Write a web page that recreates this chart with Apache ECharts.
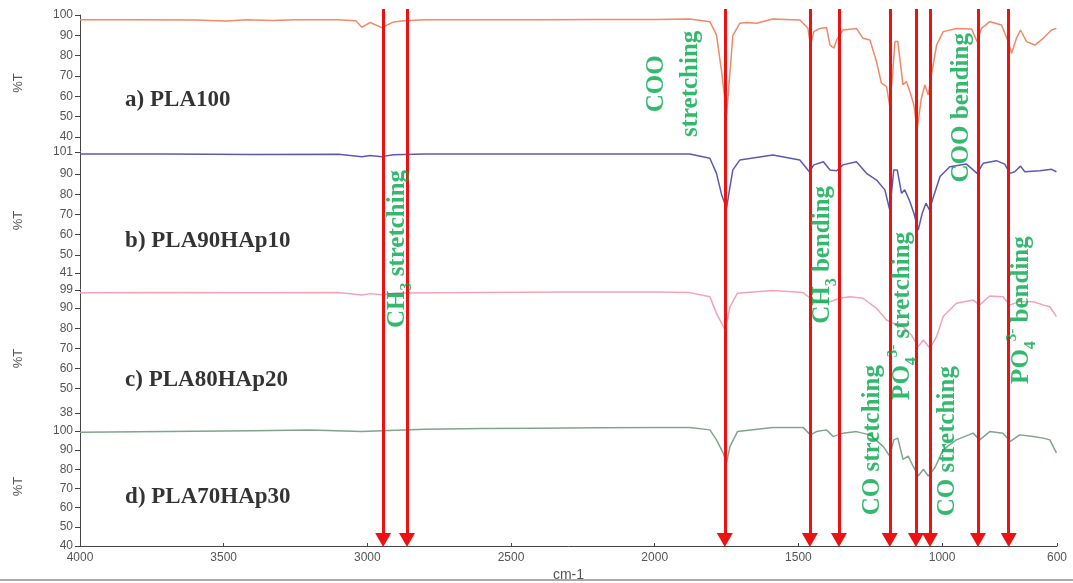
<!DOCTYPE html>
<html lang="en">
  <head>
    <meta charset="UTF-8">
    <title>FTIR spectra</title>
    <script src="https://cdn.jsdelivr.net/npm/echarts@6.0.0/dist/echarts.min.js"></script>
    <style>
      html, body { margin: 0; padding: 0; background: #fff; }
    </style>
  </head>
  <body>
    <div id="main" style="width: 1073px;height:583px;"></div>
    <script type="text/javascript">
      // spectra: [wavenumber cm-1, %T]
      const pla100 = [
        [4000, 97.6], [3800, 97.7], [3600, 97.5], [3490, 97.0], [3420, 97.6], [3330, 97.3], [3250, 97.6],
        [3100, 97.7], [3040, 97.2], [3019, 94.0], [2990, 96.3], [2950, 93.8], [2910, 96.5], [2870, 97.2],
        [2800, 97.6], [2600, 97.7], [2400, 97.7], [2200, 97.8], [2000, 97.8], [1878, 98.0],
        [1808, 96.7], [1785, 90.2], [1767, 72], [1750, 50.8], [1738, 72], [1728, 90], [1704, 95.9],
        [1680, 96.3], [1646, 95.9], [1589, 98], [1495, 97.5], [1467, 93.6], [1458, 85.2], [1446, 91.8],
        [1425, 93.4], [1402, 93.8], [1390, 85.2], [1376, 83.7], [1367, 87.7], [1345, 92.6], [1298, 93.4],
        [1275, 88.5], [1251, 87.7], [1228, 77], [1211, 66.4], [1193, 64.7], [1182, 55], [1170, 75],
        [1164, 86.9], [1154, 86.9], [1136, 65.6], [1124, 67.2], [1112, 62.3], [1098, 55.7], [1087, 43.4],
        [1072, 59], [1060, 65.6], [1048, 60.6], [1037, 70.5], [1019, 85.2], [996, 91.8], [950, 93.4],
        [897, 93.1], [878, 86.9], [863, 93.4], [834, 96.7], [793, 95.1], [770, 86.9], [758, 81.2],
        [741, 88.5], [727, 92.6], [706, 86.9], [677, 85.2], [648, 88.5], [619, 92.6], [602, 93.4]
      ];
      const pla90hap10 = [
        [4000, 100], [3700, 100], [3400, 99.8], [3100, 99.9], [3019, 98.6], [2990, 99.3], [2950, 98.7],
        [2910, 99.6], [2800, 100], [2500, 100], [2200, 100], [1878, 100], [1808, 97.9], [1785, 90.4],
        [1767, 79.7], [1750, 73.1], [1738, 83.8], [1728, 92.1], [1704, 97], [1589, 99.5], [1495, 97],
        [1462, 91.2], [1446, 94.6], [1413, 96.2], [1390, 92.1], [1367, 91.7], [1345, 94.6], [1298, 96.2],
        [1263, 90.4], [1228, 87.1], [1199, 82.2], [1182, 72.2], [1168, 92.1], [1156, 92.1], [1141, 80.5],
        [1130, 82.2], [1112, 76.4], [1098, 70.6], [1083, 62.3], [1069, 70.6], [1056, 75.6], [1044, 72.2],
        [1030, 78.8], [1007, 88.8], [973, 93.7], [915, 95], [878, 90.4], [857, 95.4], [811, 96.7],
        [782, 95], [764, 90.4], [747, 91.2], [727, 94], [712, 91.2], [660, 91.7], [619, 92.4], [602, 91.2]
      ];
      const pla80hap20 = [
        [4000, 97.6], [3700, 97.7], [3400, 97.6], [3100, 97.7], [3019, 96.5], [2990, 97.2], [2950, 96.6],
        [2900, 97.5], [2600, 97.8], [2300, 98], [2000, 98], [1878, 97.7], [1808, 95.7], [1785, 87.4],
        [1755, 79.2], [1738, 90.7], [1712, 97.4], [1589, 98.7], [1484, 97.7], [1458, 94.9], [1437, 93.2],
        [1390, 93.2], [1356, 94.9], [1321, 95.7], [1275, 94.9], [1228, 89.9], [1193, 84.1], [1170, 82.5],
        [1136, 80.8], [1107, 76.7], [1083, 70.9], [1065, 74.2], [1042, 70.1], [1019, 75.8], [996, 85.8],
        [950, 92.4], [892, 94], [869, 91.6], [834, 96], [788, 95.7], [764, 91.6], [730, 93.2], [683, 93.2],
        [648, 91.6], [625, 90.7], [602, 85.8]
      ];
      const pla70hap30 = [
        [4000, 99.2], [3800, 99.5], [3600, 99.8], [3400, 100.1], [3200, 100.4], [3019, 99.6], [2950, 100],
        [2800, 100.8], [2600, 101.2], [2400, 101.4], [2200, 101.6], [2000, 101.8], [1878, 101.8],
        [1808, 100.5], [1785, 95.3], [1762, 88.5], [1750, 83.4], [1738, 91.9], [1712, 99.6], [1589, 101.8],
        [1484, 101.8], [1458, 97.9], [1437, 99.6], [1402, 100.5], [1379, 97], [1345, 98.8], [1298, 99.6],
        [1251, 97.9], [1205, 91.9], [1182, 86.8], [1168, 95.3], [1154, 96.2], [1136, 85.1], [1118, 86.8],
        [1101, 81.7], [1083, 76.5], [1065, 80], [1048, 76.5], [1025, 80.8], [996, 90.2], [950, 95.3],
        [892, 98.8], [869, 95.3], [834, 99.6], [788, 98.8], [762, 94.5], [730, 97.9], [683, 97],
        [648, 96.2], [625, 95.3], [602, 88.5]
      ];

      const sampleNames = ['a) PLA100', 'b) PLA90HAp10', 'c) PLA80HAp20', 'd) PLA70HAp30'];
      const seriesColors = ['#f08a66', '#5a5ab4', '#f2a3b6', '#7fa58c'];
      const xTicks = [4000, 3500, 3000, 2500, 2000, 1500, 1000, 600];
      const yTicks = [
        [100, 90, 80, 70, 60, 50, 40],
        [101, 90, 80, 70, 60, 50, 41],
        [99, 90, 80, 70, 60, 50, 38],
        [100, 90, 80, 70, 60, 50, 40]
      ];
      const yRanges = [[33, 100], [33, 101], [31, 99], [40, 102]];
      // band positions (wavenumbers) marked with red arrows
      const arrowWn = [2945, 2862, 1756, 1460, 1359, 1182, 1091, 1042, 875, 768];
      // assignment labels: [text, wavenumber, height fraction of the plot]
      const bandLabels = [
        ['{t|COO}\n{t|stretching}', 1933, 0.859],
        ['{t|CH}{sub|3}{t| stretching}', 2894, 0.548],
        ['{t|CH}{sub|3}{t| bending}', 1415, 0.537],
        ['{t|COO bending}', 931, 0.814],
        ['{t|PO}{sub|4}{sup|3-}{t| stretching}', 1136, 0.422],
        ['{t|CO stretching}', 1241, 0.188],
        ['{t|CO stretching}', 980, 0.186],
        ['{t|PO}{sub|4}{sup|3-}{t| bending}', 722, 0.433]
      ];
      const namePos = [[3843, 0.829], [3843, 0.563], [3843, 0.301], [3843, 0.081]];

      const spectra = [pla100, pla90hap10, pla80hap20, pla70hap30];
      const panels = [[15, 136], [152, 137], [290, 137], [427, 121]];

      let myChart = echarts.init(document.getElementById('main'));

      const axisGrey = '#555';
      const green = '#00a84a';
      const serif = "'Liberation Serif', 'Times New Roman', serif";

      const grids = panels.map(p => ({ left: 80, right: 16, top: p[0], height: p[1] }));
      grids.push({ left: 80, right: 16, top: 9, height: 531 });

      const xAxes = grids.map((g, i) => ({
        type: 'value',
        gridIndex: i,
        min: 600,
        max: 4000,
        inverse: true,
        show: i === 3,
        name: i === 3 ? 'cm-1' : '',
        nameLocation: 'middle',
        nameGap: 22,
        nameTextStyle: { color: axisGrey, fontSize: 14, fontFamily: 'Liberation Sans' },
        splitLine: { show: false },
        axisLine: { onZero: false, lineStyle: { color: '#444' } },
        axisTick: { inside: true, length: 3, customValues: xTicks, lineStyle: { color: '#444' } },
        axisLabel: {
          customValues: xTicks,
          formatter: v => String(v),
          color: axisGrey, fontSize: 12, margin: 6, fontFamily: 'Liberation Sans'
        }
      }));

      const yAxes = panels.map((p, i) => ({
        type: 'value',
        gridIndex: i,
        min: yRanges[i][0],
        max: yRanges[i][1],
        name: '%T',
        nameLocation: 'middle',
        nameRotate: 90,
        nameGap: 55,
        nameTextStyle: { color: axisGrey, fontSize: 13, fontFamily: 'Liberation Sans' },
        splitLine: { show: false },
        axisLine: { show: true, lineStyle: { color: '#444' } },
        axisTick: { show: true, length: 5, customValues: yTicks[i], lineStyle: { color: '#444' } },
        axisLabel: { customValues: yTicks[i], color: axisGrey, fontSize: 12, margin: 7, fontFamily: 'Liberation Sans' }
      }));
      yAxes.push({ type: 'value', gridIndex: 4, min: 0, max: 1, show: false });

      const textStyle = { fontFamily: serif, fontWeight: 'bold', color: green };
      const rich = {
        t: Object.assign({ fontSize: 25, lineHeight: 34 }, textStyle),
        sub: Object.assign({ fontSize: 16, verticalAlign: 'bottom', lineHeight: 34 }, textStyle),
        sup: Object.assign({ fontSize: 15, verticalAlign: 'top', lineHeight: 34 }, textStyle)
      };

      const series = spectra.map((d, i) => ({
        type: 'line',
        name: sampleNames[i],
        xAxisIndex: i,
        yAxisIndex: i,
        data: d,
        symbol: 'none',
        lineStyle: { color: seriesColors[i], width: 1.5 },
        z: 2
      }));

      // red arrows
      series.push({
        type: 'line',
        xAxisIndex: 4,
        yAxisIndex: 4,
        data: [],
        z: 5,
        markLine: {
          silent: true,
          animation: false,
          symbol: ['none', 'triangle'],
          symbolSize: [16, 14],
          label: { show: false },
          lineStyle: { color: '#ee1111', width: 3, type: 'solid' },
          data: arrowWn.map(w => [{ coord: [w, 1] }, { coord: [w, 0] }])
        }
      });

      // band assignments
      series.push({
        type: 'scatter',
        xAxisIndex: 4,
        yAxisIndex: 4,
        symbolSize: 0,
        z: 6,
        data: bandLabels.map(b => ({ value: [b[1], b[2]], text: b[0] })),
        label: {
          show: true,
          position: 'inside',
          rotate: 90,
          align: 'center',
          verticalAlign: 'middle',
          formatter: p => p.data.text,
          rich: rich
        }
      });

      // sample names
      series.push({
        type: 'scatter',
        xAxisIndex: 4,
        yAxisIndex: 4,
        symbolSize: 0,
        z: 6,
        data: namePos.map((p, i) => ({ value: p, text: sampleNames[i] })),
        label: {
          show: true,
          position: 'inside',
          align: 'left',
          verticalAlign: 'middle',
          formatter: p => p.data.text,
          fontFamily: serif,
          fontWeight: 'bold',
          fontSize: 23,
          color: '#000'
        }
      });

      let options = {
        animation: false,
        backgroundColor: '#fff',
        grid: grids,
        xAxis: xAxes,
        yAxis: yAxes,
        series: series,
        graphic: [{
          type: 'rect',
          shape: { x: 0, y: 579, width: 1073, height: 2 },
          style: { fill: '#aaa' }
        }]
      };

      myChart.setOption(options);
    </script>
  </body>
</html>
